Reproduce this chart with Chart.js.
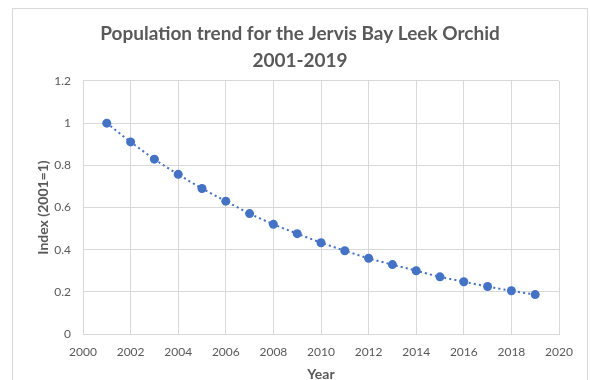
<!DOCTYPE html>
<html>
<head>
<meta charset="utf-8">
<script src="https://cdn.jsdelivr.net/npm/chart.js@4"></script>
<style>
  html, body { margin: 0; padding: 0; background: #fff; overflow: hidden; }
  .wrap { position: relative; width: 590px; height: 380px; }
  .frame { position: absolute; left: 12px; top: 8px; width: 574px; height: 400px; border: 1px solid #d9d9d9; }
  canvas { position: absolute; left: 0; top: 0; }
</style>
</head>
<body>
<div class="wrap">
  <div class="frame"></div>
  <canvas id="chart" width="590" height="380"></canvas>
</div>
<script>
const years = [2001, 2002, 2003, 2004, 2005, 2006, 2007, 2008, 2009, 2010,
               2011, 2012, 2013, 2014, 2015, 2016, 2017, 2018, 2019];
const index = [1.0, 0.911, 0.829, 0.757, 0.69, 0.63, 0.571, 0.52, 0.476, 0.433,
               0.395, 0.359, 0.329, 0.3, 0.271, 0.248, 0.225, 0.205, 0.187];
const titleLines = ["Population trend for the Jervis Bay Leek Orchid", "2001-2019"];

const grey = '#595959';
const gridGrey = '#d9d9d9';
const blue = '#4472C4';

const ctx = document.getElementById('chart').getContext('2d');
new Chart(ctx, {
    type: 'line',
    data: {
        datasets: [{
            label: 'Index',
            data: years.map((y, i) => ({ x: y, y: index[i] })),
            borderColor: blue,
            borderWidth: 2,
            borderDash: [2, 3],
            pointRadius: 4.5,
            pointBackgroundColor: blue,
            pointBorderColor: blue,
            pointBorderWidth: 0,
            tension: 0.3
        }]
    },
    options: {
        responsive: false,
        animation: false,
        layout: { padding: { top: 0, left: 41, right: 31, bottom: 0 } },
        plugins: {
            legend: { display: false },
            tooltip: { enabled: false },
            title: {
                display: true,
                text: titleLines,
                color: grey,
                font: { family: 'Lato', size: 19, weight: 'bold', lineHeight: 1.42 },
                padding: { top: 20, bottom: 7 }
            }
        },
        scales: {
            x: {
                type: 'linear',
                min: 2000,
                max: 2020,
                grid: { color: gridGrey, drawTicks: false },
                border: { color: gridGrey },
                ticks: {
                    stepSize: 2,
                    padding: 11,
                    color: grey,
                    font: { family: 'Lato', size: 12 },
                    callback: v => String(v)
                },
                title: {
                    display: true,
                    text: 'Year',
                    color: grey,
                    font: { family: 'Lato', size: 14, weight: 'bold' },
                    padding: { top: 7, bottom: -3 }
                },
                afterFit: s => { s.height = 46; }
            },
            y: {
                min: 0,
                max: 1.2,
                grid: { color: gridGrey, drawTicks: false },
                border: { display: false },
                ticks: {
                    stepSize: 0.2,
                    padding: 12,
                    color: grey,
                    font: { family: 'Lato', size: 12 },
                    callback: v => String(+v.toFixed(1))
                },
                title: {
                    display: true,
                    text: 'Index (2001=1)',
                    color: grey,
                    font: { family: 'Lato', size: 14, weight: 'bold' },
                    padding: { top: -6, bottom: 4 }
                },
                afterFit: s => { s.width = 42; }
            }
        }
    }
});
</script>
</body>
</html>
